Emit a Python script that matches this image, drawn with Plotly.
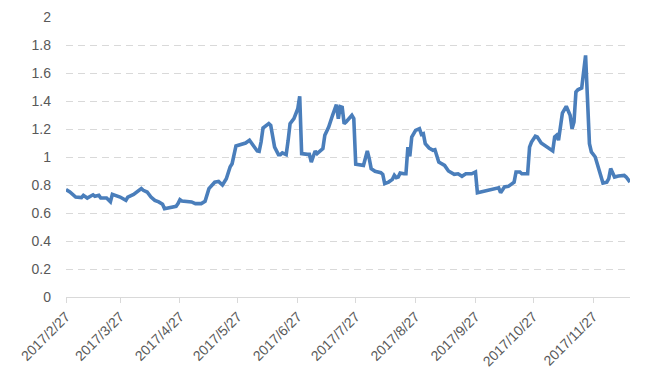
import plotly.graph_objects as go

dates = [
    "2017-02-27", "2017-03-01", "2017-03-04", "2017-03-07", "2017-03-08", "2017-03-10",
    "2017-03-13", "2017-03-14", "2017-03-16", "2017-03-17", "2017-03-20", "2017-03-22",
    "2017-03-23", "2017-03-27", "2017-03-30", "2017-03-31", "2017-04-03", "2017-04-05",
    "2017-04-07", "2017-04-08", "2017-04-10", "2017-04-12", "2017-04-14", "2017-04-16",
    "2017-04-18", "2017-04-19", "2017-04-22", "2017-04-25", "2017-04-26", "2017-04-27",
    "2017-04-28", "2017-04-30", "2017-05-03", "2017-05-05", "2017-05-08", "2017-05-10",
    "2017-05-12", "2017-05-15", "2017-05-17", "2017-05-19", "2017-05-21", "2017-05-23",
    "2017-05-24", "2017-05-26", "2017-05-29", "2017-05-31", "2017-06-02", "2017-06-04",
    "2017-06-06", "2017-06-07", "2017-06-08", "2017-06-09", "2017-06-11", "2017-06-12",
    "2017-06-13", "2017-06-15", "2017-06-17", "2017-06-18", "2017-06-19", "2017-06-20",
    "2017-06-21", "2017-06-22", "2017-06-23", "2017-06-25", "2017-06-26", "2017-06-27",
    "2017-06-28", "2017-06-29", "2017-07-02", "2017-07-03", "2017-07-04", "2017-07-06",
    "2017-07-07", "2017-07-08", "2017-07-10", "2017-07-11", "2017-07-13", "2017-07-15",
    "2017-07-17", "2017-07-18", "2017-07-19", "2017-07-20", "2017-07-21", "2017-07-22",
    "2017-07-24", "2017-07-25", "2017-07-26", "2017-07-27", "2017-07-31", "2017-08-01",
    "2017-08-02", "2017-08-03", "2017-08-04", "2017-08-06", "2017-08-09", "2017-08-10",
    "2017-08-11", "2017-08-13", "2017-08-15", "2017-08-16", "2017-08-17", "2017-08-18",
    "2017-08-19", "2017-08-21", "2017-08-22", "2017-08-23", "2017-08-24", "2017-08-25",
    "2017-08-27", "2017-08-29", "2017-08-30", "2017-08-31", "2017-09-01", "2017-09-03",
    "2017-09-05", "2017-09-06", "2017-09-07", "2017-09-08", "2017-09-11", "2017-09-13",
    "2017-09-16", "2017-09-18", "2017-09-20", "2017-09-22", "2017-09-25", "2017-09-27",
    "2017-09-28", "2017-10-01", "2017-10-05", "2017-10-09", "2017-10-10", "2017-10-12",
    "2017-10-14", "2017-10-17", "2017-10-18", "2017-10-20", "2017-10-21", "2017-10-24",
    "2017-10-25", "2017-10-26", "2017-10-28", "2017-10-29", "2017-10-31", "2017-11-03",
    "2017-11-05", "2017-11-06", "2017-11-07", "2017-11-08", "2017-11-09", "2017-11-11",
    "2017-11-13", "2017-11-15", "2017-11-16", "2017-11-17", "2017-11-18", "2017-11-19",
    "2017-11-21", "2017-11-22", "2017-11-23", "2017-11-25", "2017-11-26", "2017-11-28",
    "2017-11-30", "2017-12-02", "2017-12-04", "2017-12-05", "2017-12-06", "2017-12-08",
    "2017-12-10", "2017-12-13", "2017-12-14", "2017-12-16",
]

values = [
    0.767, 0.750, 0.714, 0.710, 0.726, 0.707,
    0.730, 0.719, 0.726, 0.707, 0.707, 0.680,
    0.733, 0.714, 0.690, 0.714, 0.733, 0.750,
    0.774, 0.762, 0.750, 0.714, 0.690, 0.679,
    0.662, 0.631, 0.638, 0.648, 0.667, 0.695,
    0.686, 0.683, 0.679, 0.667, 0.667, 0.683,
    0.774, 0.820, 0.826, 0.800, 0.845, 0.930,
    0.952, 1.079, 1.095, 1.100, 1.120, 1.083,
    1.043, 1.040, 1.107, 1.207, 1.226, 1.238,
    1.226, 1.071, 1.017, 1.017, 1.029, 1.021,
    1.017, 1.117, 1.238, 1.274, 1.310, 1.345,
    1.433, 1.024, 1.019, 1.019, 0.964, 1.043,
    1.024, 1.036, 1.060, 1.155, 1.214, 1.298,
    1.374, 1.274, 1.360, 1.355, 1.238, 1.250,
    1.286, 1.298, 1.274, 0.948, 0.940, 1.000,
    1.043, 0.988, 0.917, 0.898, 0.888, 0.876,
    0.810, 0.821, 0.840, 0.869, 0.852, 0.857,
    0.886, 0.880, 0.880, 1.070, 1.005, 1.143,
    1.190, 1.202, 1.162, 1.167, 1.095, 1.064,
    1.048, 1.052, 1.012, 0.964, 0.940, 0.900,
    0.876, 0.880, 0.862, 0.880, 0.880, 0.893,
    0.745, 0.755, 0.767, 0.780, 0.745, 0.786,
    0.790, 0.820, 0.893, 0.893, 0.880, 0.880,
    1.070, 1.107, 1.148, 1.143, 1.100, 1.071,
    1.048, 1.043, 1.143, 1.155, 1.120, 1.314,
    1.362, 1.298, 1.202, 1.250, 1.464, 1.480,
    1.493, 1.643, 1.726, 1.095, 1.036, 1.000,
    0.917, 0.814, 0.820, 0.845, 0.917, 0.857,
    0.864, 0.869, 0.857, 0.821,
]

tick_dates = ["2017-02-27", "2017-03-27", "2017-04-27", "2017-05-27", "2017-06-27",
              "2017-07-27", "2017-08-27", "2017-09-27", "2017-10-27", "2017-11-27"]
tick_labels = ["2017/2/27", "2017/3/27", "2017/4/27", "2017/5/27", "2017/6/27",
               "2017/7/27", "2017/8/27", "2017/9/27", "2017/10/27", "2017/11/27"]
y_ticks = [0, 0.2, 0.4, 0.6, 0.8, 1, 1.2, 1.4, 1.6, 1.8, 2]
y_labels = ["0", "0.2", "0.4", "0.6", "0.8", "1", "1.2", "1.4", "1.6", "1.8", "2"]

fig = go.Figure()
fig.add_trace(go.Scatter(
    x=dates, y=values, mode="lines",
    line=dict(color="#4A7EBB", width=3.6),
    hoverinfo="skip", showlegend=False,
))

font = dict(family="Liberation Sans, Arial, sans-serif", size=14, color="#595959")

# page body has an 8px default margin, so the figure is shrunk by 8px
fig.update_layout(
    width=640, height=376,
    margin=dict(l=58, r=18, t=9, b=87),
    paper_bgcolor="white", plot_bgcolor="white",
    font=font,
    xaxis=dict(
        type="date",
        range=["2017-02-27", "2017-12-16"],
        tickmode="array", tickvals=tick_dates, ticktext=tick_labels,
        tickangle=-45, tickfont=font,
        showgrid=False, zeroline=False,
        showline=True, linecolor="#D9D9D9", linewidth=1,
        ticks="outside", ticklen=5, tickcolor="#D9D9D9", tickwidth=1,
        automargin=False,
    ),
    yaxis=dict(
        range=[0, 2],
        tickmode="array", tickvals=y_ticks, ticktext=y_labels,
        tickfont=font,
        showgrid=True, gridcolor="#D9D9D9", gridwidth=1, griddash="7px,5px",
        zeroline=False, showline=False, ticks="",
        ticklabelstandoff=14, automargin=False,
    ),
)

fig.write_html("out.html")
